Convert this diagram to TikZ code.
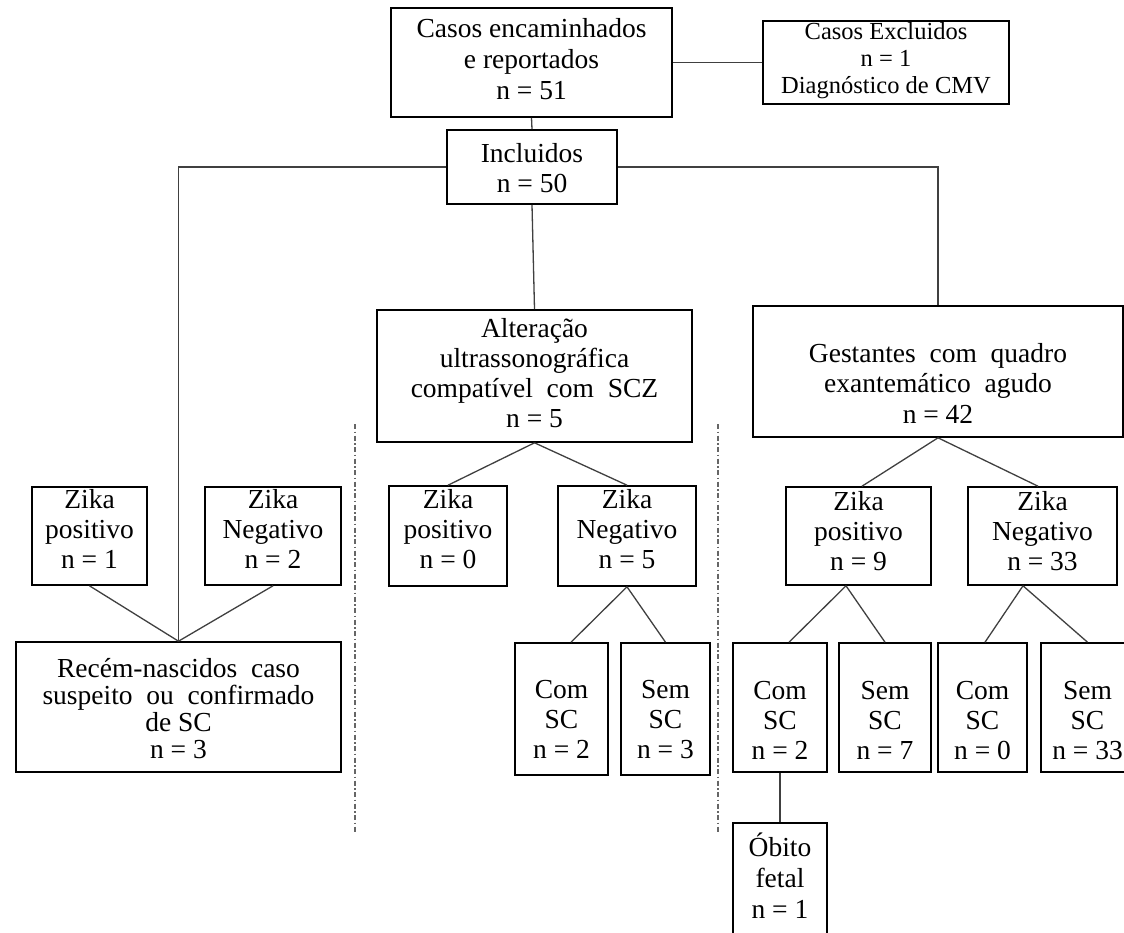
\documentclass[tikz,border=0pt]{standalone}
\usepackage{fontspec}
\setmainfont{Liberation Serif}
\newcommand\wsp{\hspace{0.5em}}
\tikzset{
  box/.style={draw, line width=1.6pt, inner sep=0pt, align=center,
              font=\fontsize{27.5}{30}\selectfont},
  conn/.style={line width=1.3pt, draw=black!75},
  sepline/.style={line width=1.3pt, draw=black!60,
                  dash pattern=on 5pt off 2.5pt on 1.5pt off 2.5pt},
}
% [opts] name x1 x2 y1 y2 lastbaseline text
\newcommand\mkbox[8][]{%
  \pgfmathsetmacro\cx{(#3+#4)/2}%
  \pgfmathsetmacro\cy{(#5+#6)/2}%
  \pgfmathsetmacro\bw{#4-#3}%
  \pgfmathsetmacro\bh{#6-#5}%
  \pgfmathsetmacro\tH{max(0,2*(#7-\cy))}%
  \pgfmathsetmacro\tD{max(0,2*(\cy-#7))}%
  \node[box, minimum width=\bw pt, minimum height=\bh pt,
        text height=\tH pt, text depth=\tD pt, #1] (#2) at (\cx,\cy) {#8};%
}
\begin{document}
\begin{tikzpicture}[x=1pt,y=-1pt]
\fill[white] (0,0) rectangle (1124,932);
\useasboundingbox (0,0) rectangle (1124,932);

% top
\mkbox[font=\fontsize{27.5}{31}\selectfont]{casos}{391}{672}{8}{117}{99}{Casos encaminhados\\e reportados\\n = 51}
\mkbox[font=\fontsize{24.5}{27}\selectfont]{excl}{763}{1009}{21}{104}{93.5}{Casos Excluidos\\n = 1\\Diagnóstico de CMV}
\mkbox{incl}{447}{617}{130}{204}{192}{Incluidos\\n = 50}

% left branch
\mkbox{lpos}{32}{147}{487}{585}{568}{Zika\\positivo\\n = 1}
\mkbox{lneg}{205}{341}{487}{585}{568}{Zika\\Negativo\\n = 2}
\mkbox[font=\fontsize{27.5}{27}\selectfont]{recem}{16}{341}{642}{772}{758}{Recém-nascidos\wsp caso\\suspeito\wsp ou\wsp confirmado\\de SC\\n = 3}

% middle branch
\mkbox{alt}{377}{692}{310}{442}{427}{Alteração\\ultrassonográfica\\compatível\wsp com\wsp SCZ\\n = 5}
\mkbox{mpos}{389}{507}{486}{586}{568}{Zika\\positivo\\n = 0}
\mkbox{mneg}{558}{696}{486}{586}{568}{Zika\\Negativo\\n = 5}
\mkbox{mcom}{515}{608}{643}{775}{758}{Com\\SC\\n = 2}
\mkbox{msem}{621}{710}{643}{775}{758}{Sem\\SC\\n = 3}

% right branch
\mkbox[font=\fontsize{27.5}{30.5}\selectfont]{gest}{753}{1123}{306}{437}{423}{Gestantes\wsp com\wsp quadro\\exantemático\wsp agudo\\n = 42}
\mkbox{rpos}{786}{931}{487}{585}{570}{Zika\\positivo\\n = 9}
\mkbox{rneg}{968}{1117}{487}{585}{570}{Zika\\Negativo\\n = 33}
\mkbox{rcom}{733}{827}{643}{772}{759}{Com\\SC\\n = 2}
\mkbox{rsem}{839}{931}{643}{772}{759}{Sem\\SC\\n = 7}
\mkbox{rcom2}{938}{1027}{643}{772}{759}{Com\\SC\\n = 0}
\mkbox{rsem2}{1041}{1134}{643}{772}{759}{Sem\\SC\\n = 33}
\mkbox[font=\fontsize{27.5}{31}\selectfont]{obito}{733}{827}{823}{950}{918}{Óbito\\fetal\\n = 1}

% connectors
\draw[conn] (casos.south) -- (incl.north);
\draw[conn] (casos.east) -- (excl.west);
\draw[conn] (incl.west) -| (recem.north);
\draw[conn] (incl.east) -| (gest.north);
\draw[conn] (incl.south) -- (alt.north);
\draw[conn] (lpos.south) -- (recem.north);
\draw[conn] (lneg.south) -- (recem.north);
\draw[conn] (alt.south) -- (mpos.north);
\draw[conn] (alt.south) -- (mneg.north);
\draw[conn] (mneg.south) -- ([xshift=9.5pt]mcom.north);
\draw[conn] (mneg.south) -- (msem.north);
\draw[conn] (gest.south) -- ([xshift=3.5pt]rpos.north);
\draw[conn] (gest.south) -- ([xshift=-4.5pt]rneg.north);
\draw[conn] ([xshift=-12.5pt]rpos.south) -- ([xshift=9pt]rcom.north);
\draw[conn] ([xshift=-12.5pt]rpos.south) -- (rsem.north);
\draw[conn] ([xshift=-19.5pt]rneg.south) -- ([xshift=2.5pt]rcom2.north);
\draw[conn] ([xshift=-19.5pt]rneg.south) -- (rsem2.north);
\draw[conn] (rcom.south) -- (obito.north);

% separators
\coordinate (sepAtop) at (355,424);
\coordinate (sepAbot) at (355,833);
\coordinate (sepBtop) at (718,424);
\coordinate (sepBbot) at (718,833);
\draw[sepline] (sepAtop) -- (sepAbot);
\draw[sepline] (sepBtop) -- (sepBbot);
\end{tikzpicture}
\end{document}
